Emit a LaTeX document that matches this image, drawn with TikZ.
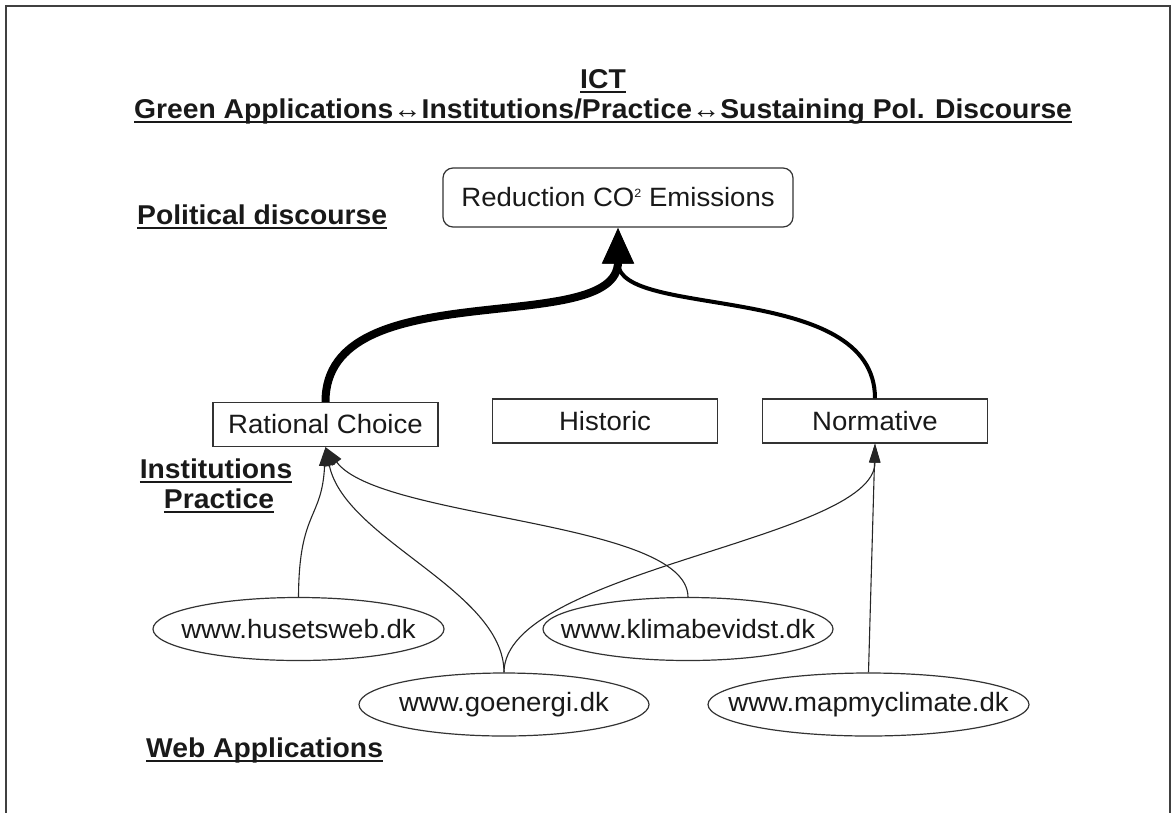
\documentclass[tikz,border=0pt]{standalone}
\usepackage{fontspec}
\setmainfont{Liberation Sans}[FakeStretch=1.04]
\usetikzlibrary{arrows.meta,shapes.geometric}
\newcommand\ulin[1]{\setbox0\hbox{#1}\rlap{\copy0}\rule[-5pt]{\wd0}{2pt}}
\begin{document}
\begin{tikzpicture}[x=1pt,y=-1pt,
  txt/.style={font=\fontsize{26.5}{30}\selectfont, inner sep=0pt, text=black!90},
  lbl/.style={font=\fontsize{27.2}{30}\selectfont\bfseries, inner sep=0pt, text=black!90},
  box/.style={txt, draw=black!80, line width=1.2pt, minimum width=225pt, minimum height=44pt},
  web/.style={txt, draw=black!80, ellipse, line width=1.2pt, minimum height=63pt},
  link/.style={draw=black!85, line width=1.1pt, -{Triangle[length=19pt,width=11pt]}},
  bigarrow/.style={draw=black, -{Triangle[length=36pt,width=30pt]}}]
\useasboundingbox (0,0) rectangle (1173,812);
\draw[line width=1.5pt, black!75] (6,830) -- (6,6) -- (1170,6) -- (1170,830);

% titles and labels
\node[lbl, anchor=base] (ict) at (603,88) {\ulin{ICT}};
\node[lbl, anchor=base] (sub) at (603,118) {\ulin{Green Applications↔Institutions/Practice↔Sustaining Pol. Discourse}};
\node[lbl, anchor=base west] (pol) at (137,224) {\ulin{Political discourse}};
\node[lbl, anchor=base] (inst) at (216,478) {\ulin{Institutions}};
\node[lbl, anchor=base] (prac) at (219,508) {\ulin{Practice}};
\node[lbl, anchor=base west] (webapp) at (146,757) {\ulin{Web Applications}};

% nodes
\node[txt, draw=black!80, rounded corners=10pt, line width=1.2pt, minimum width=350pt, minimum height=59pt] (co2) at (618,197.5) {Reduction CO\raisebox{9pt}{\fontsize{12}{12}\selectfont 2} Emissions};
\node[box] (rc) at (325.5,424.5) {Rational Choice};
\node[box] (hist) at (605,421) {Historic};
\node[box] (norm) at (875,421) {Normative};
\node[web, minimum width=291pt] (hus) at (298.5,629) {\makebox[0pt]{www.husetsweb.dk}};
\node[web, minimum width=290pt] (klima) at (688,629) {\makebox[0pt]{www.klimabevidst.dk}};
\node[web, minimum width=290pt] (goe) at (504,704.5) {\makebox[0pt]{www.goenergi.dk}};
\node[web, minimum width=321pt] (map) at (868.5,704.5) {\makebox[0pt]{www.mapmyclimate.dk}};

% thin connectors
\draw[link] (hus.north) .. controls (299,510) and (322,520) .. (rc.south);
\draw[link] (goe.north) .. controls (504,590) and (345,540) .. (rc.south);
\draw[link] (klima.north) .. controls (687,520) and (380,520) .. (rc.south);
\draw[link] (goe.north) .. controls (504,570) and (875,540) .. (norm.south);
\draw[link] (map.north) -- (norm.south);

% thick connectors
\draw[bigarrow, line width=4pt] (norm.north) .. controls (875,280) and (618,320) .. (co2.south);
\draw[bigarrow, line width=8pt] (rc.north) .. controls (325,270) and (618,340) .. (co2.south);
\end{tikzpicture}
\end{document}
